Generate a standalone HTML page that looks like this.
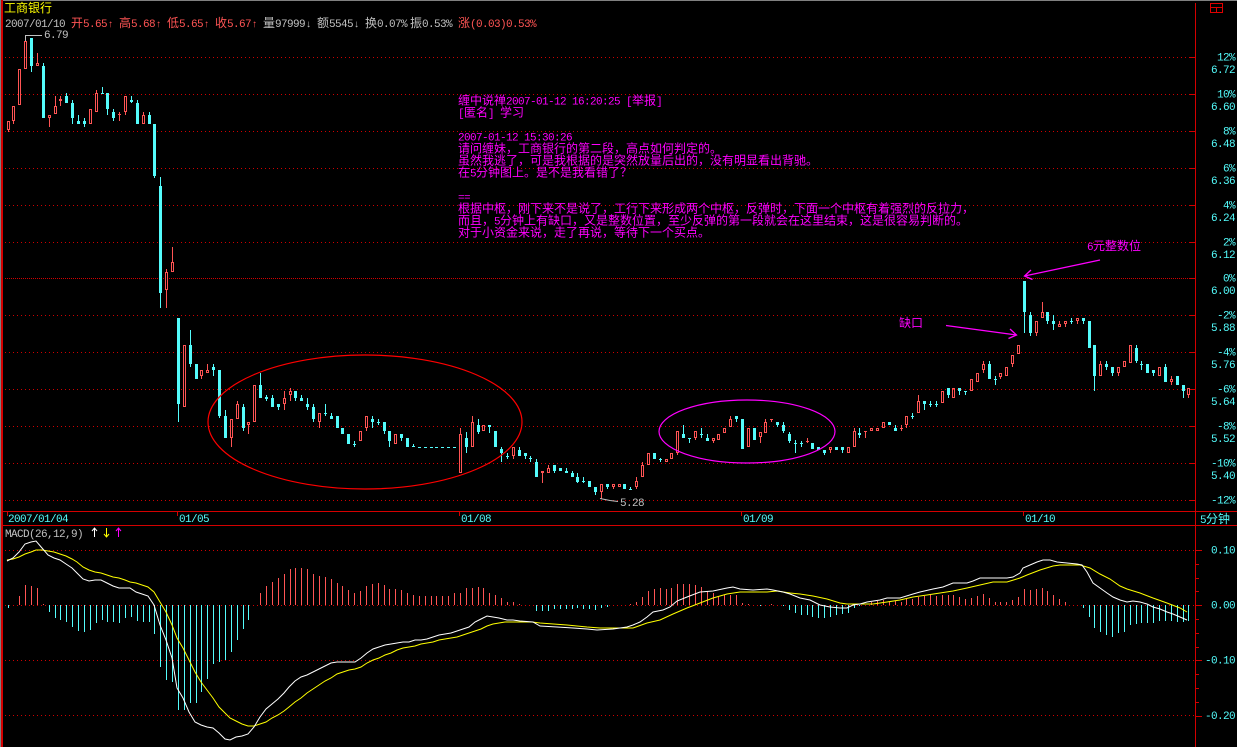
<!DOCTYPE html>
<html><head><meta charset="utf-8">
<style>
html,body{margin:0;padding:0;background:#000;width:1237px;height:747px;overflow:hidden}
svg{display:block}
text{font-family:"Liberation Mono",monospace;font-size:11px;letter-spacing:-0.6px;white-space:pre}
.c{font-family:"Liberation Sans","Noto Sans CJK SC",sans-serif;font-size:12px;letter-spacing:0}
.ar{font-family:"Liberation Sans","Noto Sans CJK SC",sans-serif;font-size:10px;letter-spacing:0}
</style></head>
<body>
<svg id="s" width="1237" height="747" viewBox="0 0 1237 747" xmlns="http://www.w3.org/2000/svg">
<rect width="1237" height="747" fill="#000"/>
<g id="grid"></g>
<g id="frame" shape-rendering="crispEdges">
  <rect x="0" y="0" width="1237" height="1" fill="#808080"/>
  <rect x="0" y="0" width="1" height="747" fill="#808080"/>
  <rect x="1" y="0" width="2" height="747" fill="#d40000"/>
  <rect x="1195" y="3" width="1" height="744" fill="#d40000"/>
  <rect x="3" y="511" width="1234" height="1" fill="#d40000"/>
  <rect x="3" y="525" width="1234" height="1" fill="#d40000"/>
  <rect x="7" y="511" width="1" height="5" fill="#d40000"/>
  <rect x="177" y="511" width="1" height="5" fill="#d40000"/>
  <rect x="459" y="511" width="1" height="5" fill="#d40000"/>
  <rect x="741" y="511" width="1" height="5" fill="#d40000"/>
  <rect x="1023" y="511" width="1" height="5" fill="#d40000"/>
  <rect x="1210.5" y="3.5" width="12" height="9" fill="none" stroke="#e00000"/>
  <rect x="1211" y="7" width="11" height="1" fill="#e00000"/>
  <rect x="1216" y="7" width="1" height="6" fill="#e00000"/>
</g>

<!-- header -->
<text x="4" y="12" class="c" fill="#ffff00">工商银行</text>
<text y="27" fill="#c0c0c0"><tspan x="5">2007/01/10</tspan></text>
<text y="27" fill="#ff5454"><tspan x="71" class="c">开</tspan><tspan x="83">5.65</tspan><tspan x="108" class="ar">↑</tspan><tspan x="119" class="c">高</tspan><tspan x="131">5.68</tspan><tspan x="156" class="ar">↑</tspan><tspan x="167" class="c">低</tspan><tspan x="179">5.65</tspan><tspan x="204" class="ar">↑</tspan><tspan x="215" class="c">收</tspan><tspan x="227">5.67</tspan><tspan x="252" class="ar">↑</tspan></text>
<text y="27" fill="#c0c0c0"><tspan x="263" class="c">量</tspan><tspan x="275">97999</tspan><tspan x="306" class="ar">↓</tspan><tspan x="317" class="c">额</tspan><tspan x="329">5545</tspan><tspan x="354" class="ar">↓</tspan><tspan x="365" class="c">换</tspan><tspan x="377">0.07%</tspan><tspan x="410" class="c">振</tspan><tspan x="422">0.53%</tspan></text>
<text y="27" fill="#ff5454"><tspan x="458" class="c">涨</tspan><tspan x="470">(0.03)0.53%</tspan></text>

<!-- annotation -->
<g fill="#ff00ff">
<text x="458" y="104.5"><tspan class="c">缠中说禅</tspan>2007-01-12 16:20:25 [<tspan class="c">举报</tspan>]</text>
<text x="458" y="116.5">[<tspan class="c">匿名</tspan>] <tspan class="c">学习</tspan></text>
<text x="458" y="140.5">2007-01-12 15:30:26</text>
<text x="458" y="152.5" class="c">请问缠妹，工商银行的第二段，高点如何判定的。</text>
<text x="458" y="164.5" class="c">虽然我逃了，可是我根据的是突然放量后出的，没有明显看出背驰。</text>
<text x="458" y="176.5"><tspan class="c">在</tspan>5<tspan class="c">分钟图上。是不是我看错了？</tspan></text>
<text x="458" y="200.5">==</text>
<text x="458" y="212.5" class="c">根据中枢，刚下来不是说了，工行下来形成两个中枢，反弹时，下面一个中枢有着强烈的反拉力，</text>
<text x="458" y="224.5"><tspan class="c">而且，</tspan>5<tspan class="c">分钟上有缺口，又是整数位置，至少反弹的第一段就会在这里结束，这是很容易判断的。</tspan></text>
<text x="458" y="236.5" class="c">对于小资金来说，走了再说，等待下一个买点。</text>
<text x="1087" y="250">6<tspan class="c">元整数位</tspan></text>
<text x="899" y="327" class="c">缺口</text>
</g>

<!-- right axis labels -->
<g id="axis" fill="#54fcfc"></g>

<!-- date labels -->
<g fill="#54fcfc">
<text x="8" y="522">2007/01/04</text>
<text x="179" y="522">01/05</text>
<text x="461" y="522">01/08</text>
<text x="743" y="522">01/09</text>
<text x="1025" y="522">01/10</text>
<text x="1200" y="523">5<tspan class="c">分钟</tspan></text>
</g>

<!-- MACD label -->
<text x="5" y="537" fill="#c0c0c0">MACD(26,12,9)</text>
<g stroke-width="1" fill="none">
  <path d="M94.5 537V528M92 531L94.5 528L97 531" stroke="#ffffff"/>
  <path d="M106.5 528V537M104 534L106.5 537L109 534" stroke="#ffff00"/>
  <path d="M118.5 537V528M116 531L118.5 528L121 531" stroke="#ff00ff"/>
</g>
<g fill="#54fcfc">
<text x="1235" y="553.5" text-anchor="end">0.10</text>
<text x="1235" y="608.5" text-anchor="end">0.00</text>
<text x="1235" y="663.5" text-anchor="end">-0.10</text>
<text x="1235" y="719" text-anchor="end">-0.20</text>
</g>

<g id="candles" shape-rendering="crispEdges"></g>
<g id="hist" shape-rendering="crispEdges"></g>

<!-- markers -->
<g stroke="#c0c0c0" fill="none" stroke-width="1">
  <path d="M25.5 41V35.5H42"/>
  <path d="M600 498.5L605 499.5L610 500.5L618 501.5"/>
</g>
<text x="44" y="38" fill="#c0c0c0">6.79</text>
<text x="620" y="506" fill="#c0c0c0">5.28</text>

<!-- ellipses -->
<ellipse cx="365" cy="422" rx="157" ry="67" fill="none" stroke="#ff0000" stroke-width="1.2"/>
<ellipse cx="747" cy="431.5" rx="88" ry="31.5" fill="none" stroke="#ff00ff" stroke-width="1.2"/>

<!-- arrows -->
<g stroke="#ff00ff" stroke-width="1.3" fill="none">
  <path d="M946 325.5L1016.5 335"/>
  <path d="M1010 329L1016.5 335L1008.5 338.5"/>
  <path d="M1100 260L1024.5 276"/>
  <path d="M1031 270L1024.5 276L1032.5 279.5"/>
</g>

<!-- MACD lines -->
<polyline fill="none" stroke="#ffff00" stroke-width="1" points="7,560 13,559 19,557 25,554 31,552 36,550 42,550 48,551 54,552 60,554 66,556 72,559 77,562 83,567 89,570 95,572 101,573 107,575 113,577 119,578 125,580 130,582 136,583 142,585 148,587 154,592 160,602 166,612 172,625 177,638 183,648 189,660 195,672 201,682 207,690 213,698 219,707 225,713 230,718 236,721 242,724 248,726 254,726 260,724 266,722 272,718 278,715 284,711 289,707 295,702 301,698 307,693 313,689 319,685 325,681 331,678 337,674 343,672 349,670 355,669 361,667 367,663 373,660 379,658 385,655 391,653 397,650 403,648 409,647 415,646 421,644 427,643 433,642 439,640 445,639 451,638 457,637 463,635 469,633 475,631 481,629 487,626 493,624 499,623 505,622 513,622 532,622 540,623 567,625 587,627 600,628 617,628 633,628 647,623 660,620 673,614 687,608 700,603 713,598 727,594 740,592 753,592 767,592 777,591 790,593 800,594 813,596 827,599 840,603 847,604 860,604 873,604 887,602 900,600 913,597 927,595 940,593 953,591 967,588 980,585 993,582 1007,582 1020,578 1027,575 1040,570 1053,566 1060,565 1080,565 1090,568 1100,574 1110,579 1120,586 1127,589 1140,593 1153,598 1167,603 1180,608 1187,612"/>
<polyline fill="none" stroke="#ffffff" stroke-width="1" points="7,561 13,558 19,552 25,544 31,542 36,541 42,548 48,555 54,558 60,560 66,564 72,568 77,573 83,579 89,581 95,580 101,580 107,583 113,586 119,588 125,588 130,588 136,592 142,594 148,596 154,605 160,625 166,640 172,658 177,688 183,698 189,712 195,722 201,725 207,727 213,728 219,733 225,739 230,740 236,737 242,736 248,734 254,727 260,717 266,709 272,704 278,699 284,693 289,687 295,681 301,677 307,675 313,672 319,669 325,666 331,663 337,662 343,662 349,662 355,662 361,658 367,653 373,649 379,647 385,645 391,644 397,643 403,642 409,642 415,640 421,640 427,639 433,637 439,635 445,634 451,633 457,631 463,629 469,627 475,622 481,619 487,616 493,617 499,618 507,620 513,620 520,621 533,622 540,626 557,627 573,628 587,629 597,630 613,629 627,627 633,625 640,622 647,617 653,612 663,610 670,607 677,601 687,597 700,592 713,591 727,588 733,587 740,589 753,590 767,589 773,590 783,592 790,594 800,598 810,600 820,605 830,607 840,608 847,608 853,605 860,604 867,602 880,600 887,598 900,598 913,594 920,592 933,589 943,587 953,583 967,583 973,581 980,578 993,578 1007,578 1013,577 1020,573 1023,568 1030,565 1037,562 1043,560 1050,560 1057,562 1067,563 1077,564 1082,565 1087,572 1093,583 1100,588 1107,593 1113,597 1120,600 1127,602 1133,601 1140,602 1147,604 1153,607 1160,609 1167,612 1173,614 1180,617 1187,620"/>
</svg>
<script>
(function(){
function html(id,s){document.getElementById(id).insertAdjacentHTML('beforeend',s);}
// grid
var g='';
var GY=[57,94,131,168,205,242,278,315,352,389,426,463,500];
GY.forEach(function(y,k){
  var da = (k===6)?'1 1':'1 3';
  g+='<line x1="5" y1="'+(y+0.5)+'" x2="1195" y2="'+(y+0.5)+'" stroke="#d00000" stroke-dasharray="'+da+'"/>';
  g+='<rect x="1190" y="'+y+'" width="5" height="1" fill="#d00000"/>';
});
[550,605,660,715].forEach(function(y){
  g+='<line x1="5" y1="'+(y+0.5)+'" x2="1195" y2="'+(y+0.5)+'" stroke="#d00000" stroke-dasharray="1 3"/>';
});
for(var t=0;t<13;t++){var y=Math.round(550+t*13.8);var maj=(t%4===0);
  g+='<rect x="1196" y="'+y+'" width="'+(maj?6:3)+'" height="1" fill="#d00000"/>';}
html('grid',g);
// axis labels
var a='';
var P=['6.72','6.60','6.48','6.36','6.24','6.12','6.00','5.88','5.76','5.64','5.52','5.40'];
GY.forEach(function(y,k){
  var pct=12-2*k;
  a+='<text x="1235" y="'+(y+3.5)+'" text-anchor="end">'+pct+'%</text>';
  if(k<12) a+='<text x="1235" y="'+(y+16)+'" text-anchor="end">'+P[k]+'</text>';
});
html('axis',a);
// candles [i,color,bodyTop,bodyBot,wickTop,wickBot]
var C=[[0,'r',121,130,121,132],[1,'r',106,121,106,124],[2,'r',69,105],[3,'r',41,69,35,69],[4,'c',38,66,38,72],[5,'r',63,66,53,66],[6,'c',66,118,63,118],[7,'r',115,118,115,127],[8,'r',106,114,96,114],[9,'r',99,101,96,106],[10,'c',96,103,93,103],[11,'c',103,118,100,124],[12,'c',121,124,115,124],[13,'c',121,124,118,127],[14,'r',109,124],[15,'r',93,112,90,112],[16,'c',93,94,87,94],[17,'c',93,109,93,115],[18,'c',112,118,109,121],[19,'r',114,115,112,121],[20,'r',96,112,96,115],[21,'c',100,102,96,103],[22,'c',103,124,100,124],[23,'r',115,124,112,124],[24,'c',115,124,112,124],[25,'c',124,176,124,178],[26,'c',186,293,177,308],[27,'r',272,290,269,308],[28,'r',262,272,247,272],[29,'c',318,404,318,422],[30,'r',345,407],[31,'c',345,364,330,367],[32,'c',364,379],[33,'r',370,376,370,379],[34,'r',370,373,364,373],[35,'c',367,370,364,376],[36,'c',370,416,370,418],[37,'c',416,438,410,438],[38,'r',419,438,419,447],[39,'r',404,419,401,419],[40,'c',407,428,404,431],[41,'r',422,425,422,434],[42,'r',385,422],[43,'c',385,398,373,398],[44,'c',397,399,395,401],[45,'c',398,407,395,407],[46,'c',404,407,404,410],[47,'r',398,404,391,410],[48,'r',391,395,388,401],[49,'c',391,398,391,401],[50,'c',398,401,395,401],[51,'c',404,407,398,410],[52,'c',407,419,404,422],[53,'r',413,422,413,428],[54,'c',413,414,404,416],[55,'c',416,419,413,419],[56,'c',416,428],[57,'c',428,434],[58,'c',434,444],[59,'c',444,445,441,447],[60,'r',431,441],[61,'r',416,428,416,431],[62,'c',419,422,416,428],[63,'c',422,423,419,425],[64,'c',422,431,422,434],[65,'c',431,441,431,447],[66,'r',434,444],[67,'c',434,438,434,441],[68,'c',438,447],[69,'c',446,447,444,447],[70,'c',447,448],[71,'c',447,448],[72,'c',447,448],[73,'c',447,448],[74,'c',447,448],[75,'c',447,448],[76,'c',447,448],[77,'r',434,473,428,473],[78,'c',438,447,432,453],[79,'r',422,447,416,447],[80,'c',425,432,419,434],[81,'r',425,431],[82,'c',425,427,425,433],[83,'c',431,447],[84,'c',449,453,447,462],[85,'c',456,457,453,459],[86,'r',447,456,447,459],[87,'c',450,456,447,456],[88,'c',453,456,453,459],[89,'c',458,459,456,462],[90,'c',462,477,459,477],[91,'r',471,473,471,483],[92,'r',468,473,465,473],[93,'c',465,471,465,473],[94,'c',468,471],[95,'c',471,473,468,473],[96,'c',473,477,471,477],[97,'c',477,482,473,483],[98,'c',481,482,477,483],[99,'c',481,487],[100,'c',487,492,487,495],[101,'r',484,492,484,499],[102,'c',484,487,484,489],[103,'r',484,487,484,489],[104,'r',484,487],[105,'c',484,489],[106,'c',489,490,487,490],[107,'r',481,487,477,489],[108,'r',465,477,462,477],[109,'r',453,465],[110,'c',453,459],[111,'c',459,460,458,462],[112,'r',459,462],[113,'r',453,459],[114,'r',431,453,431,455],[115,'c',434,438,425,438],[116,'c',438,439,438,443],[117,'r',431,438,431,440],[118,'c',434,435,428,438],[119,'c',438,441,434,441],[120,'r',438,441,438,443],[121,'r',434,440],[122,'r',428,433],[123,'r',419,427,416,427],[124,'c',416,419,416,422],[125,'c',419,449],[126,'r',428,447],[127,'c',428,440],[128,'r',432,437,432,443],[129,'r',422,433,419,433],[130,'r',419,420,419,422],[131,'c',422,425,422,427],[132,'c',425,431,422,433],[133,'c',434,441,432,443],[134,'c',443,444,440,453],[135,'c',443,444,441,447],[136,'r',441,442,438,443],[137,'c',443,449],[138,'c',447,450],[139,'c',450,453,450,455],[140,'r',447,450,447,453],[141,'c',447,450],[142,'c',447,450,447,453],[143,'r',447,453],[144,'r',431,447,428,447],[145,'c',433,435,428,438],[146,'r',431,432,431,438],[147,'r',428,431],[148,'r',428,431],[149,'r',422,428],[150,'c',422,425],[151,'c',428,431,425,431],[152,'r',428,429,425,431],[153,'r',416,425,416,428],[154,'c',416,417,413,419],[155,'r',401,413,395,413],[156,'c',401,404,401,410],[157,'c',404,405,401,407],[158,'c',404,405,401,407],[159,'r',391,403],[160,'c',388,395,388,398],[161,'r',388,398],[162,'c',388,391,388,395],[163,'c',391,392,391,395],[164,'r',379,391],[165,'r',373,382],[166,'r',364,370,361,373],[167,'c',364,379,361,379],[168,'c',379,380,376,385],[169,'r',373,377,373,379],[170,'r',367,376],[171,'r',355,364,355,367],[172,'r',345,354],[173,'c',281,312,281,333],[174,'c',315,333,312,336],[175,'r',321,333,321,336],[176,'r',312,318,302,318],[177,'c',312,321,312,324],[178,'c',321,324,315,330],[179,'r',324,327,321,327],[180,'r',321,324,321,327],[181,'c',321,322,318,324],[182,'r',318,321,318,324],[183,'c',318,321,318,324],[184,'c',321,348],[185,'c',345,376,345,391],[186,'r',364,376,361,376],[187,'c',364,367,361,370],[188,'c',367,373,367,376],[189,'r',367,373,367,376],[190,'r',361,367],[191,'r',345,363],[192,'c',348,361,345,363],[193,'c',364,365,361,370],[194,'c',364,373],[195,'c',370,373,370,376],[196,'r',367,376],[197,'c',367,382,364,382],[198,'r',379,382,376,385],[199,'c',376,385],[200,'c',385,391,385,398],[201,'r',388,395,388,398]];
var s='';
C.forEach(function(d){
  var i=d[0],c=d[1],bt=d[2],bb=d[3],wt=(d[4]===undefined?bt:d[4]),wb=(d[5]===undefined?bb:d[5]);
  var x=Math.round(7.5+i*5.875);
  var col=(c==='c')?'#54fcfc':'#ff5454';
  if(c==='c'||bb-bt<=2){
    s+='<rect x="'+(x-1)+'" y="'+bt+'" width="3" height="'+Math.max(1,bb-bt)+'" fill="'+col+'"/>';
  } else {
    s+='<rect x="'+(x-0.5)+'" y="'+(bt+0.5)+'" width="2" height="'+(bb-bt-1)+'" fill="none" stroke="'+col+'"/>';
  }
  if(wt<bt) s+='<rect x="'+x+'" y="'+wt+'" width="1" height="'+(bt-wt)+'" fill="'+col+'"/>';
  if(wb>bb) s+='<rect x="'+x+'" y="'+bb+'" width="1" height="'+(wb-bb)+'" fill="'+col+'"/>';
});
html('candles',s);
// histogram
var H=[250,241,212,180,183,188,238,262,280,285,290,305,318,322,315,295,285,290,292,293,280,275,288,290,290,328,427,465,470,555,555,535,533,500,462,418,412,405,380,345,313,285,241,205,183,170,160,147,133,128,128,133,147,153,155,162,175,182,195,205,198,182,178,175,180,192,193,195,203,210,212,213,213,213,212,213,205,205,190,190,187,188,205,210,218,230,232,236,241,240,258,258,258,253,252,252,252,250,252,252,255,248,246,241,240,240,238,232,215,198,191,189,192,188,177,177,177,180,185,197,205,213,210,210,210,233,237,241,243,241,237,241,243,255,265,270,270,275,278,278,275,270,268,263,250,243,240,232,228,225,228,228,230,222,222,215,212,210,212,210,210,210,215,222,218,213,208,218,230,230,230,225,215,192,195,192,188,197,210,222,231,241,241,248,275,310,322,330,335,325,320,300,297,295,295,293,288,288,288,290,290,288];
var h='';var z=605;
H.forEach(function(zy,i){
  var x=Math.round(7.5+i*5.875);var y=Math.round(525+zy/3);
  if(y===z) return;
  var top=Math.min(y,z),ht=Math.abs(y-z);
  h+='<rect x="'+x+'" y="'+top+'" width="1" height="'+ht+'" fill="'+(y<z?'#ff5454':'#54fcfc')+'"/>';
});
html('hist',h);
})();
</script>
</body></html>
